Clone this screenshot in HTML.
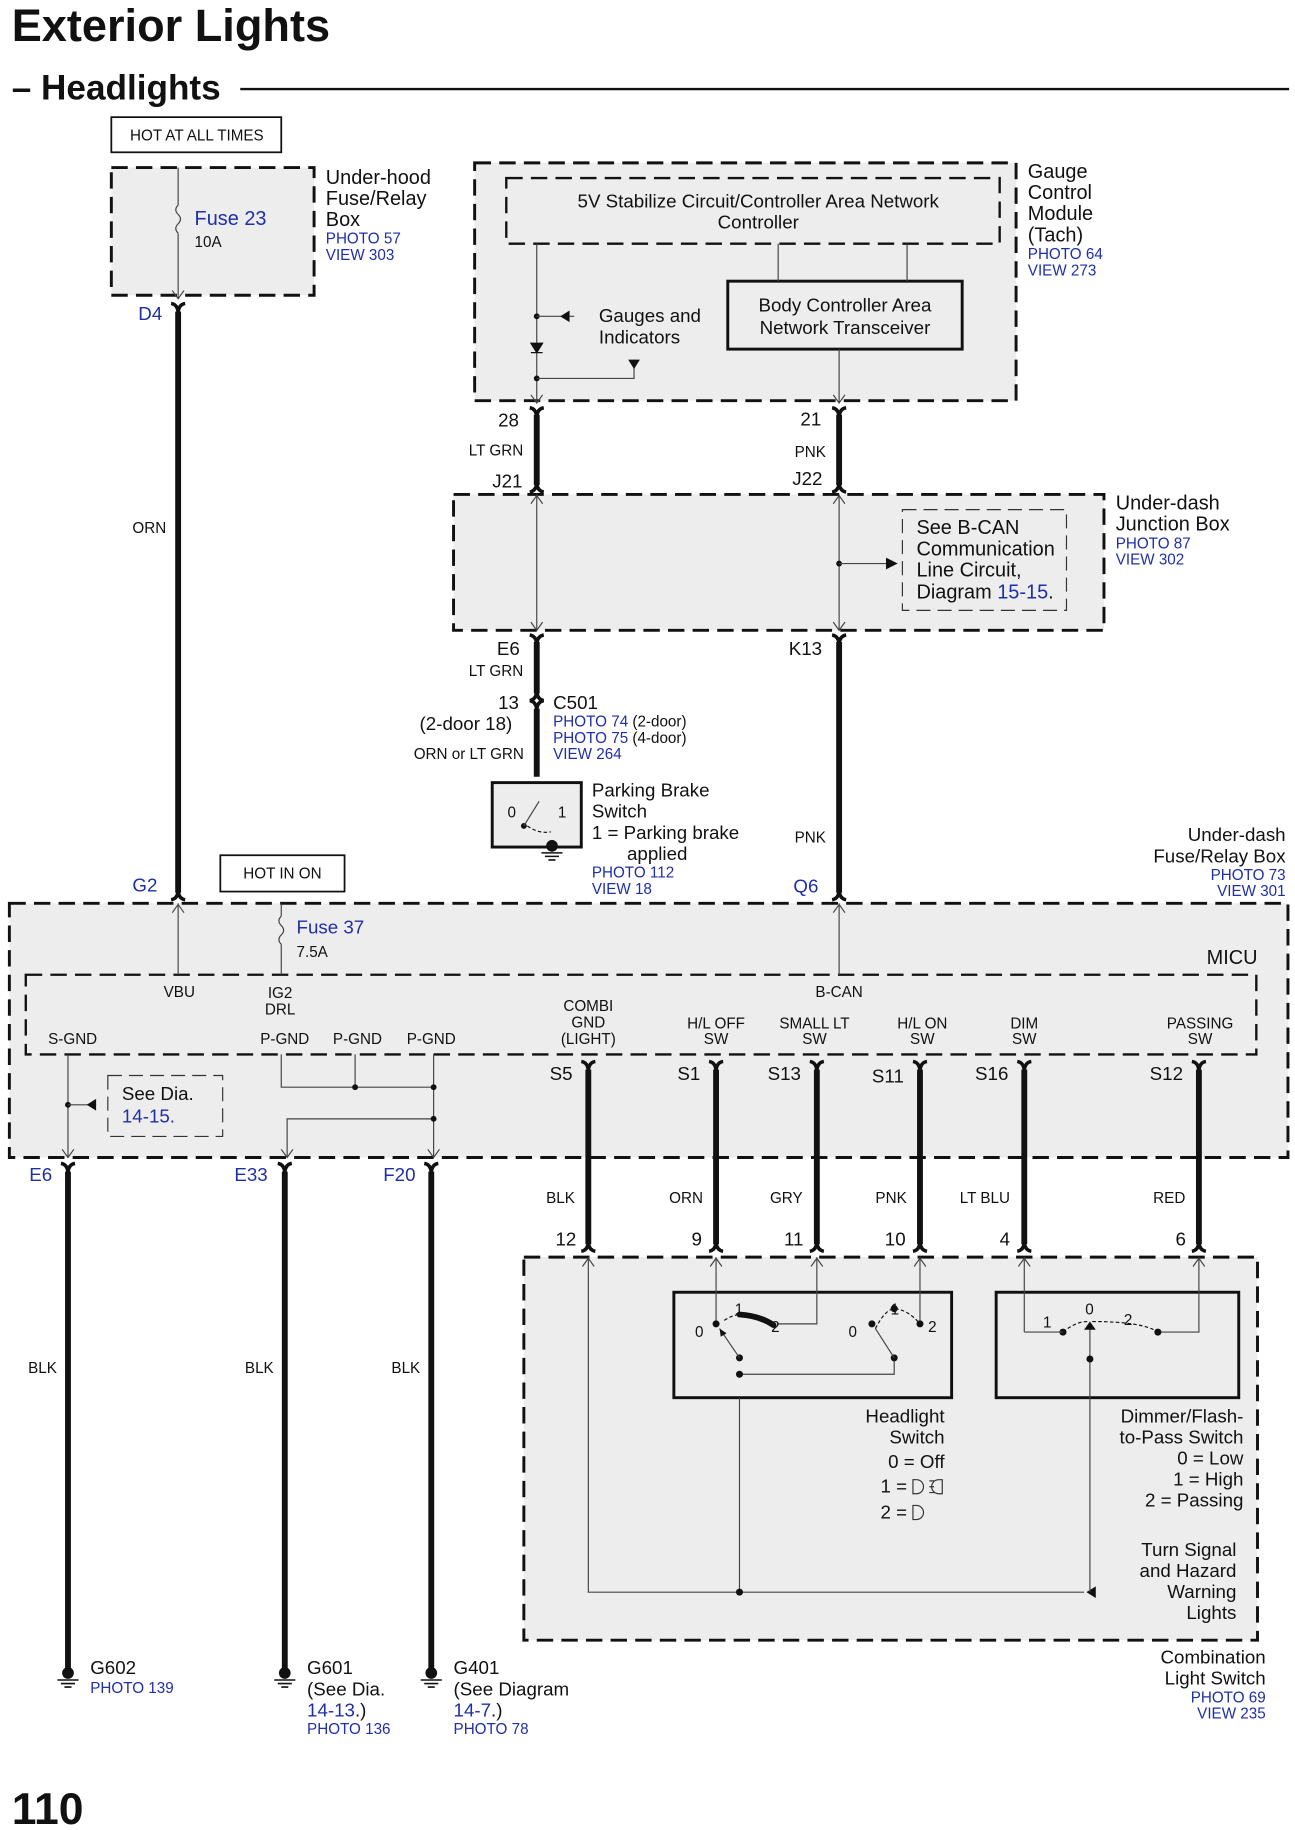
<!DOCTYPE html>
<html><head><meta charset="utf-8"><style>
html,body{margin:0;padding:0;background:#fff}
svg{display:block}
text{font-family:"Liberation Sans",Arial,sans-serif;fill:#111}
.b{fill:#1f2fa8}
.s{font-size:13px}
.m{font-size:16px}
.l{font-size:17px}
.t{stroke:#111;stroke-width:5;fill:none}
.n{stroke:#444;stroke-width:1;fill:none}
.d{stroke:#111;stroke-width:2.5;stroke-dasharray:14,7;fill:#ededed}
.d2{stroke:#111;stroke-width:2;stroke-dasharray:14,7;fill:none}
.k{stroke:#111;stroke-width:2.5;fill:none}
</style></head><body>
<svg width="1295" height="1830" viewBox="0 0 1105 1562" preserveAspectRatio="none" xmlns="http://www.w3.org/2000/svg">
<defs>
<symbol id="ct" overflow="visible"><path d="M-6,0 Q0,1 0,9 M6,0 Q0,1 0,9" stroke="#111" stroke-width="3" fill="none"/></symbol>
<symbol id="cb" overflow="visible"><path d="M-6,0 Q0,-1 0,-9 M6,0 Q0,-1 0,-9" stroke="#111" stroke-width="3" fill="none"/></symbol>
<symbol id="au" overflow="visible"><path d="M-5,7 L0,0 L5,7" stroke="#444" fill="none"/></symbol>
<symbol id="ad" overflow="visible"><path d="M-5,-7 L0,0 L5,-7" stroke="#444" fill="none"/></symbol>
<symbol id="g" overflow="visible"><circle r="5" fill="#111"/><path d="M-9,6 h18 M-6,9 h12 M-3,12 h6" stroke="#111" stroke-width="1.3"/></symbol>
</defs>
<text x="10" y="35" style="font-size:38.5px;font-weight:bold">Exterior Lights</text>
<text x="10" y="85" style="font-size:30px;font-weight:bold">– Headlights</text>
<line x1="205" y1="76" x2="1100" y2="76" stroke="#111" stroke-width="2"/>

<rect x="95" y="100" width="145" height="30" fill="#fff" stroke="#111" stroke-width="1.5"/>
<text x="168" y="120" class="s" text-anchor="middle">HOT AT ALL TIMES</text>
<rect x="95" y="143" width="173" height="109" class="d"/>
<line x1="152" y1="143" x2="152" y2="175" class="n"/>
<path d="M152,175 q-4,4 0,8 q4,4 0,8 q-4,4 0,8" class="n"/>
<line x1="152" y1="199" x2="152" y2="255" class="n"/><use href="#ad" x="152" y="255"/>
<text x="166" y="192" class="l b">Fuse 23</text><text x="166" y="211" class="s">10A</text>
<text x="278" y="157" class="l">Under-hood</text><text x="278" y="175" class="l">Fuse/Relay</text><text x="278" y="193" class="l">Box</text>
<text x="278" y="208" class="s b">PHOTO 57</text><text x="278" y="222" class="s b">VIEW 303</text>
<text x="118" y="273" class="m b">D4</text>
<use href="#ct" x="152" y="259"/><line x1="152" y1="266" x2="152" y2="762" class="t"/><use href="#cb" x="152" y="768"/>
<text x="113" y="455" class="s">ORN</text>
<text x="113" y="761" class="m b">G2</text>

<rect x="405" y="139" width="462" height="203" class="d"/>
<rect x="432" y="152" width="421" height="56" class="d2"/>
<text x="647" y="177" class="m" text-anchor="middle">5V Stabilize Circuit/Controller Area Network</text>
<text x="647" y="195" class="m" text-anchor="middle">Controller</text>
<rect x="621" y="240" width="200" height="58" fill="#ededed" stroke="#111" stroke-width="2.5"/>
<text x="721" y="266" class="m" text-anchor="middle">Body Controller Area</text>
<text x="721" y="285" class="m" text-anchor="middle">Network Transceiver</text>
<line x1="664" y1="208" x2="664" y2="240" class="n"/><line x1="774" y1="208" x2="774" y2="240" class="n"/>
<line x1="458" y1="208" x2="458" y2="344" class="n"/><use href="#ad" x="458" y="344"/>
<circle cx="458" cy="270" r="2.5" fill="#111"/><line x1="458" y1="270" x2="490" y2="270" class="n"/><path d="M486,265 L478,270 L486,275Z" fill="#111"/>
<path d="M453,293 h10 l-5,8 z M453,301 h10" fill="#111" stroke="#111"/>
<circle cx="458" cy="323" r="2.5" fill="#111"/><path d="M458,323 H541 V307" class="n"/><path d="M536,307 h10 l-5,8z" fill="#111"/>
<text x="511" y="275" class="m">Gauges and</text><text x="511" y="293" class="m">Indicators</text>
<line x1="716" y1="298" x2="716" y2="344" class="n"/><use href="#ad" x="716" y="344"/>
<text x="877" y="152" class="l">Gauge</text><text x="877" y="170" class="l">Control</text><text x="877" y="188" class="l">Module</text><text x="877" y="206" class="l">(Tach)</text>
<text x="877" y="221" class="s b">PHOTO 64</text><text x="877" y="235" class="s b">VIEW 273</text>
<text x="425" y="364" class="m">28</text><text x="400" y="389" class="s">LT GRN</text><text x="420" y="416" class="m">J21</text>
<use href="#ct" x="458" y="348"/><line x1="458" y1="354" x2="458" y2="414" class="t"/><use href="#cb" x="458" y="420"/>
<text x="683" y="363" class="m">21</text><text x="678" y="390" class="s">PNK</text><text x="676" y="414" class="m">J22</text>
<use href="#ct" x="716" y="348"/><line x1="716" y1="354" x2="716" y2="414" class="t"/><use href="#cb" x="716" y="420"/>

<rect x="387" y="422" width="555" height="116" class="d"/>
<line x1="458" y1="422" x2="458" y2="538" class="n"/><use href="#au" x="458" y="423"/><use href="#ad" x="458" y="538"/>
<line x1="716" y1="422" x2="716" y2="538" class="n"/><use href="#au" x="716" y="423"/><use href="#ad" x="716" y="538"/>
<circle cx="716" cy="481" r="2.5" fill="#111"/><line x1="716" y1="481" x2="758" y2="481" class="n"/><path d="M756,476 L766,481 L756,486Z" fill="#111"/>
<rect x="770" y="435" width="140" height="86" fill="none" stroke="#333" stroke-width="1" stroke-dasharray="12,6"/>
<text x="782" y="456" class="l">See B-CAN</text><text x="782" y="474" class="l">Communication</text><text x="782" y="492" class="l">Line Circuit,</text>
<text x="782" y="511" class="l">Diagram <tspan class="b">15-15</tspan>.</text>
<text x="952" y="435" class="l">Under-dash</text><text x="952" y="453" class="l">Junction Box</text>
<text x="952" y="468" class="s b">PHOTO 87</text><text x="952" y="482" class="s b">VIEW 302</text>
<text x="424" y="559" class="m">E6</text><text x="400" y="577" class="s">LT GRN</text>
<use href="#ct" x="458" y="542"/><line x1="458" y1="548" x2="458" y2="592" class="t"/><use href="#cb" x="458" y="598"/>
<use href="#ct" x="458" y="598"/><line x1="458" y1="605" x2="458" y2="663" class="t"/>
<text x="425" y="605" class="m">13</text><text x="358" y="623" class="m">(2-door 18)</text><text x="353" y="648" class="s">ORN or LT GRN</text>
<text x="472" y="605" class="m">C501</text>
<text x="472" y="620" class="s"><tspan class="b">PHOTO 74</tspan> (2-door)</text>
<text x="472" y="634" class="s"><tspan class="b">PHOTO 75</tspan> (4-door)</text>
<text x="472" y="648" class="s b">VIEW 264</text>
<text x="673" y="559" class="m">K13</text>
<use href="#ct" x="716" y="542"/><line x1="716" y1="548" x2="716" y2="762" class="t"/><use href="#cb" x="716" y="768"/>
<text x="678" y="719" class="s">PNK</text><text x="677" y="762" class="m b">Q6</text>
<rect x="420" y="668" width="76" height="55" fill="#ededed" stroke="#111" stroke-width="2.5"/>
<text x="433" y="698" class="s">0</text><text x="476" y="698" class="s">1</text>
<circle cx="447" cy="705" r="2.5" fill="#111"/><path d="M447,705 L460,684" class="n"/><path d="M450,705 Q460,712 470,710" stroke="#111" stroke-dasharray="3,2" fill="none"/>
<use href="#g" x="471" y="722"/>
<text x="505" y="680" class="m">Parking Brake</text><text x="505" y="698" class="m">Switch</text>
<text x="505" y="716" class="m">1 = Parking brake</text><text x="535" y="734" class="m">applied</text>
<text x="505" y="749" class="s b">PHOTO 112</text><text x="505" y="763" class="s b">VIEW 18</text>
<rect x="188" y="730" width="106" height="31" fill="#fff" stroke="#111" stroke-width="1.5"/>
<text x="241" y="750" class="s" text-anchor="middle">HOT IN ON</text>
<text x="1097" y="718" class="m" text-anchor="end">Under-dash</text><text x="1097" y="736" class="m" text-anchor="end">Fuse/Relay Box</text>
<text x="1097" y="751" class="s b" text-anchor="end">PHOTO 73</text><text x="1097" y="765" class="s b" text-anchor="end">VIEW 301</text>

<rect x="8" y="771" width="1091" height="217" class="d"/>
<rect x="22" y="832" width="1050" height="68" class="d2"/>
<text x="1073" y="823" class="l" text-anchor="end">MICU</text>
<line x1="240" y1="771" x2="240" y2="782" class="n"/><path d="M240,782 q-4,4 0,8 q4,4 0,8 q-4,4 0,8" class="n"/><line x1="240" y1="806" x2="240" y2="832" class="n"/>
<text x="253" y="797" class="m b">Fuse 37</text><text x="253" y="817" class="s">7.5A</text>
<line x1="152" y1="771" x2="152" y2="832" class="n"/><use href="#au" x="152" y="772"/>
<line x1="716" y1="771" x2="716" y2="832" class="n"/><use href="#au" x="716" y="772"/>
<g class="s" text-anchor="middle">
<text x="153" y="851">VBU</text><text x="239" y="852">IG2</text><text x="239" y="866">DRL</text><text x="716" y="851">B-CAN</text>
<text x="62" y="891">S-GND</text><text x="243" y="891">P-GND</text><text x="305" y="891">P-GND</text><text x="368" y="891">P-GND</text>
<text x="502" y="863">COMBI</text><text x="502" y="877">GND</text><text x="502" y="891">(LIGHT)</text>
<text x="611" y="878">H/L OFF</text><text x="611" y="891">SW</text>
<text x="695" y="878">SMALL LT</text><text x="695" y="891">SW</text>
<text x="787" y="878">H/L ON</text><text x="787" y="891">SW</text>
<text x="874" y="878">DIM</text><text x="874" y="891">SW</text>
<text x="1024" y="878">PASSING</text><text x="1024" y="891">SW</text>
</g>
<g class="m b"><text x="469" y="922">S5</text><text x="578" y="922">S1</text><text x="655" y="922">S13</text><text x="744" y="924">S11</text><text x="832" y="922">S16</text><text x="981" y="922">S12</text></g>
<line x1="58" y1="900" x2="58" y2="988" class="n"/><use href="#ad" x="58" y="988"/>
<circle cx="58" cy="943" r="2.5" fill="#111"/><line x1="58" y1="943" x2="82" y2="943" class="n"/><path d="M82,938 L74,943 L82,948Z" fill="#111"/>
<rect x="92" y="918" width="98" height="52" fill="none" stroke="#333" stroke-dasharray="12,6"/>
<text x="104" y="939" class="m">See Dia.</text><text x="104" y="958" class="m b">14-15.</text>
<path d="M240,900 V928 H370 M303,900 V928 M370,900 V988 M370,955 H245 V988" class="n"/>
<circle cx="303" cy="928" r="2.5" fill="#111"/><circle cx="370" cy="928" r="2.5" fill="#111"/><circle cx="370" cy="955" r="2.5" fill="#111"/>
<use href="#ad" x="245" y="988"/><use href="#ad" x="370" y="988"/>
<text x="25" y="1008" class="m b">E6</text><text x="200" y="1008" class="m b">E33</text><text x="327" y="1008" class="m b">F20</text>
<use href="#ct" x="58" y="993"/><line x1="58" y1="1000" x2="58" y2="1425" class="t"/>
<use href="#ct" x="243" y="993"/><line x1="243" y1="1000" x2="243" y2="1425" class="t"/>
<use href="#ct" x="368" y="993"/><line x1="368" y1="1000" x2="368" y2="1425" class="t"/>
<text x="24" y="1172" class="s">BLK</text><text x="209" y="1172" class="s">BLK</text><text x="334" y="1172" class="s">BLK</text>
<use href="#g" x="58" y="1428"/><use href="#g" x="243" y="1428"/><use href="#g" x="368" y="1428"/>
<text x="77" y="1429" class="m">G602</text><text x="77" y="1445" class="s b">PHOTO 139</text>
<text x="262" y="1429" class="m">G601</text><text x="262" y="1447" class="m">(See Dia.</text><text x="262" y="1465" class="m"><tspan class="b">14-13</tspan>.)</text><text x="262" y="1480" class="s b">PHOTO 136</text>
<text x="387" y="1429" class="m">G401</text><text x="387" y="1447" class="m">(See Diagram</text><text x="387" y="1465" class="m"><tspan class="b">14-7</tspan>.)</text><text x="387" y="1480" class="s b">PHOTO 78</text>

<g>
<use href="#ct" x="502" y="906"/><line x1="502" y1="913" x2="502" y2="1062" class="t"/><use href="#cb" x="502" y="1068"/>
<use href="#ct" x="611" y="906"/><line x1="611" y1="913" x2="611" y2="1062" class="t"/><use href="#cb" x="611" y="1068"/>
<use href="#ct" x="697" y="906"/><line x1="697" y1="913" x2="697" y2="1062" class="t"/><use href="#cb" x="697" y="1068"/>
<use href="#ct" x="785" y="906"/><line x1="785" y1="913" x2="785" y2="1062" class="t"/><use href="#cb" x="785" y="1068"/>
<use href="#ct" x="874" y="906"/><line x1="874" y1="913" x2="874" y2="1062" class="t"/><use href="#cb" x="874" y="1068"/>
<use href="#ct" x="1023" y="906"/><line x1="1023" y1="913" x2="1023" y2="1062" class="t"/><use href="#cb" x="1023" y="1068"/>
</g>
<g class="s"><text x="466" y="1027">BLK</text><text x="571" y="1027">ORN</text><text x="657" y="1027">GRY</text><text x="747" y="1027">PNK</text><text x="819" y="1027">LT BLU</text><text x="984" y="1027">RED</text></g>
<g class="m"><text x="474" y="1063">12</text><text x="590" y="1063">9</text><text x="669" y="1063">11</text><text x="755" y="1063">10</text><text x="853" y="1063">4</text><text x="1003" y="1063">6</text></g>
<rect x="447" y="1073" width="626" height="327" class="d"/>
<rect x="575" y="1103" width="237" height="90" fill="#ededed" stroke="#111" stroke-width="2.5"/>
<rect x="850" y="1103" width="207" height="90" fill="#ededed" stroke="#111" stroke-width="2.5"/>
<path d="M502,1073 V1359 H925 M611,1073 V1130 M697,1073 V1130 H663 M785,1073 V1130 M631,1193 V1359 M874,1073 V1137 M1023,1073 V1137 H990 M631,1173 H763 V1159" class="n"/>
<use href="#au" x="502" y="1074"/><use href="#au" x="611" y="1074"/><use href="#au" x="697" y="1074"/><use href="#au" x="785" y="1074"/><use href="#au" x="874" y="1074"/><use href="#au" x="1023" y="1074"/>
<circle cx="631" cy="1359" r="3" fill="#111"/><path d="M935,1354 L927,1359 L935,1364Z" fill="#111"/>
<circle cx="611" cy="1130" r="3" fill="#111"/><circle cx="631" cy="1159" r="3" fill="#111"/><circle cx="631" cy="1173" r="3" fill="#111"/>
<path d="M631,1159 L614,1134" class="n"/><path d="M614,1134 l1,7 l5,-3z" fill="#111"/>
<path d="M618,1127 Q624,1123 630,1122" stroke="#111" stroke-dasharray="3,2" fill="none"/>
<path d="M631,1122 Q648,1123 660,1131" stroke="#111" stroke-width="5" fill="none" stroke-linecap="round"/>
<circle cx="744" cy="1130" r="3" fill="#111"/><circle cx="763" cy="1159" r="3" fill="#111"/><circle cx="763" cy="1117" r="3" fill="#111"/><circle cx="785" cy="1130" r="3" fill="#111"/>
<path d="M763,1159 L747,1134" class="n"/><path d="M747,1134 Q755,1118 763,1117 Q775,1118 785,1130" stroke="#111" stroke-dasharray="3,2" fill="none"/>
<text x="593" y="1141" class="s">0</text><text x="627" y="1122" class="s">1</text><text x="658" y="1137" class="s">2</text>
<text x="724" y="1141" class="s">0</text><text x="760" y="1122" class="s">1</text><text x="792" y="1137" class="s">2</text>
<path d="M930,1359 V1160 M930,1160 L930,1132" class="n"/>
<circle cx="930" cy="1160" r="3" fill="#111"/><circle cx="907" cy="1137" r="3" fill="#111"/><circle cx="988" cy="1137" r="3" fill="#111"/>
<path d="M874,1137 H907" class="n"/><path d="M925,1135 l5,-7 l5,7z" fill="#111"/>
<path d="M907,1137 Q918,1128 928,1128 M932,1128 Q975,1128 988,1137" stroke="#111" stroke-dasharray="3,2" fill="none"/>
<text x="890" y="1133" class="s">1</text><text x="926" y="1122" class="s">0</text><text x="959" y="1131" class="s">2</text>
<g class="m" text-anchor="end">
<text x="806" y="1214">Headlight</text><text x="806" y="1232">Switch</text><text x="806" y="1253">0 = Off</text>
<text x="774" y="1274">1 =</text><text x="774" y="1296">2 =</text>
<text x="1061" y="1214">Dimmer/Flash-</text><text x="1061" y="1232">to-Pass Switch</text><text x="1061" y="1250">0 = Low</text><text x="1061" y="1268">1 = High</text><text x="1061" y="1286">2 = Passing</text>
<text x="1055" y="1328">Turn Signal</text><text x="1055" y="1346">and Hazard</text><text x="1055" y="1364">Warning</text><text x="1055" y="1382">Lights</text>
<text x="1080" y="1420">Combination</text><text x="1080" y="1438">Light Switch</text>
</g>
<path d="M779,1263 h3 a6,6 0 0 1 0,12 h-3z M797,1264 h-4 M797,1269 h-4 M797,1274 h-4 M804,1263 h-3 a6,6 0 0 0 0,12 h3z M779,1285 h3 a6,6 0 0 1 0,12 h-3z" stroke="#333" fill="none" stroke-width="1"/>
<text x="1080" y="1453" class="s b" text-anchor="end">PHOTO 69</text><text x="1080" y="1467" class="s b" text-anchor="end">VIEW 235</text>
<text x="10" y="1557" style="font-size:38px;font-weight:bold">110</text>
</svg>
</body></html>
